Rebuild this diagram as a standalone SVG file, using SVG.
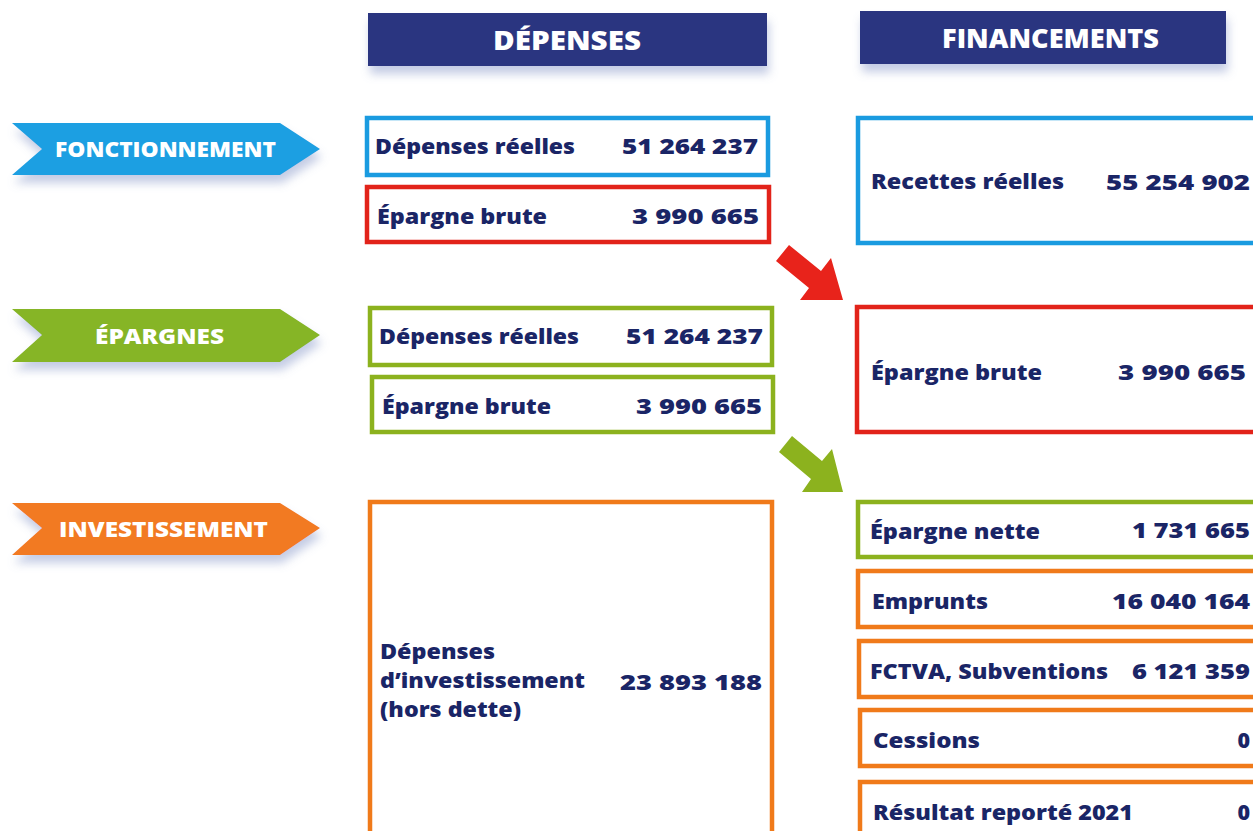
<svg xmlns="http://www.w3.org/2000/svg" width="1253" height="831" viewBox="0 0 1253 831">
<defs>
<filter id="sh" x="-10%" y="-30%" width="120%" height="180%">
<feDropShadow dx="2" dy="8" stdDeviation="5" flood-color="#7f8fc4" flood-opacity="0.45"/>
</filter>
<style>
.hdr{fill:#2a3480}
.ht{font-family:"Open Sans","Liberation Sans",sans-serif;font-weight:800;font-size:27px;fill:#fff}
.bt{font-family:"Open Sans","Liberation Sans",sans-serif;font-weight:800;font-size:21.5px;fill:#fff}
.box{fill:#fff;stroke-width:4.5}
.b{stroke:#1a9be0}.r{stroke:#e2231a}.g{stroke:#8cb21e}.o{stroke:#f07a1a}
.t{font-family:"Open Sans","Liberation Sans",sans-serif;font-weight:800;font-size:21px;fill:#1a2566}
.n{font-family:"Open Sans","Liberation Sans",sans-serif;font-weight:800;font-size:21.5px;fill:#1a2566}
.z{text-anchor:end}
</style>
</defs>
<rect width="1253" height="831" fill="#fff"/>

<g id="hdr-depenses"><rect class="hdr" x="368" y="13" width="399" height="53" filter="url(#sh)"/><text class="ht" x="493" y="50" textLength="148" lengthAdjust="spacingAndGlyphs">DÉPENSES</text></g>
<g id="hdr-financements"><rect class="hdr" x="860" y="11" width="366" height="53" filter="url(#sh)"/><text class="ht" x="942" y="48" textLength="217" lengthAdjust="spacingAndGlyphs">FINANCEMENTS</text></g>

<g id="banner-fonctionnement"><polygon points="12,123 280,123 320,149 280,175 12,175 42,149" fill="#1d9fe2" filter="url(#sh)"/><text class="bt" x="55" y="157" textLength="221" lengthAdjust="spacingAndGlyphs">FONCTIONNEMENT</text></g>
<g id="banner-epargnes"><polygon points="12,309 280,309 320,335 280,362 12,362 42,335" fill="#86b526" filter="url(#sh)"/><text class="bt" x="95" y="344" textLength="129" lengthAdjust="spacingAndGlyphs">ÉPARGNES</text></g>
<g id="banner-investissement"><polygon points="12,503 280,503 320,528 280,555 12,555 42,528" fill="#f27a22" filter="url(#sh)"/><text class="bt" x="59" y="537" textLength="209" lengthAdjust="spacingAndGlyphs">INVESTISSEMENT</text></g>

<g id="dep-fonct-reelles"><rect class="box b" x="367" y="118" width="401" height="57"/><text class="t" x="375" y="154" textLength="200" lengthAdjust="spacingAndGlyphs">Dépenses réelles</text><text class="n" x="622" y="154" textLength="136" lengthAdjust="spacingAndGlyphs">51 264 237</text></g>
<g id="dep-fonct-epargne"><rect class="box r" x="367" y="187" width="402" height="55"/><text class="t" x="377" y="224" textLength="170" lengthAdjust="spacingAndGlyphs">Épargne brute</text><text class="n" x="632" y="224" textLength="127" lengthAdjust="spacingAndGlyphs">3 990 665</text></g>
<g id="dep-ep-reelles"><rect class="box g" x="370" y="308" width="402" height="57"/><text class="t" x="379" y="344" textLength="200" lengthAdjust="spacingAndGlyphs">Dépenses réelles</text><text class="n" x="626" y="344" textLength="137" lengthAdjust="spacingAndGlyphs">51 264 237</text></g>
<g id="dep-ep-epargne"><rect class="box g" x="372" y="377" width="401" height="55"/><text class="t" x="382" y="414" textLength="169" lengthAdjust="spacingAndGlyphs">Épargne brute</text><text class="n" x="636" y="414" textLength="126" lengthAdjust="spacingAndGlyphs">3 990 665</text></g>
<g id="dep-invest"><rect class="box o" x="370" y="502" width="402" height="345"/><text class="t" x="380" y="659" textLength="115" lengthAdjust="spacingAndGlyphs">Dépenses</text><text class="t" x="380" y="688" textLength="205" lengthAdjust="spacingAndGlyphs">d’investissement</text><text class="t" x="380" y="717" textLength="141" lengthAdjust="spacingAndGlyphs">(hors dette)</text><text class="n" x="620" y="690" textLength="142" lengthAdjust="spacingAndGlyphs">23 893 188</text></g>

<g id="fin-recettes"><rect class="box b" x="858" y="118" width="420" height="125"/><text class="t" x="871" y="189" textLength="193" lengthAdjust="spacingAndGlyphs">Recettes réelles</text><text class="n" x="1106" y="190" textLength="144" lengthAdjust="spacingAndGlyphs">55 254 902</text></g>
<g id="fin-epargne-brute"><rect class="box r" x="857" y="307" width="420" height="125"/><text class="t" x="871" y="380" textLength="171" lengthAdjust="spacingAndGlyphs">Épargne brute</text><text class="n" x="1118" y="380" textLength="128" lengthAdjust="spacingAndGlyphs">3 990 665</text></g>
<g id="fin-epargne-nette"><rect class="box g" x="858" y="502" width="420" height="55"/><text class="t" x="870" y="539" textLength="170" lengthAdjust="spacingAndGlyphs">Épargne nette</text><text class="n" x="1132" y="538" textLength="118" lengthAdjust="spacingAndGlyphs">1 731 665</text></g>
<g id="fin-emprunts"><rect class="box o" x="858" y="571" width="420" height="56"/><text class="t" x="872" y="609" textLength="116" lengthAdjust="spacingAndGlyphs">Emprunts</text><text class="n" x="1112" y="609" textLength="138" lengthAdjust="spacingAndGlyphs">16 040 164</text></g>
<g id="fin-fctva"><rect class="box o" x="859" y="641" width="420" height="56"/><text class="t" x="870" y="679" textLength="238" lengthAdjust="spacingAndGlyphs">FCTVA, Subventions</text><text class="n" x="1132" y="679" textLength="118" lengthAdjust="spacingAndGlyphs">6 121 359</text></g>
<g id="fin-cessions"><rect class="box o" x="860" y="710" width="420" height="56"/><text class="t" x="873" y="748" textLength="107" lengthAdjust="spacingAndGlyphs">Cessions</text><text class="n z" x="1250" y="748">0</text></g>
<g id="fin-resultat"><rect class="box o" x="860" y="782" width="420" height="70"/><text class="t" x="873" y="820" textLength="260" lengthAdjust="spacingAndGlyphs">Résultat reporté 2021</text><text class="n z" x="1250" y="820">0</text></g>

<g id="connectors">
<polygon points="789,245 821,271 831,258 843,300 800,300 809,288 776,261" fill="#e8231b"/>
<polygon points="792,436 822,461 832,449 843,492 802,492 811,479 779,452" fill="#8cb21e"/>
</g>
</svg>
